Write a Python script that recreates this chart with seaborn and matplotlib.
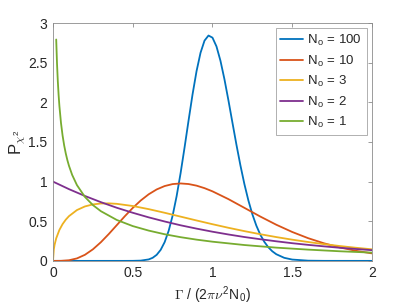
import numpy as np
import pandas as pd
import seaborn as sns
import matplotlib
import matplotlib.pyplot as plt

sns.set_style("white")
plt.rcParams["font.family"] = ["Liberation Sans", "DejaVu Sans"]
plt.rcParams["mathtext.fontset"] = "cm"

FONTSIZE = 10

# N_o = 100
x100 = [0.0, 0.45, 0.5, 0.55, 0.6, 0.625, 0.65, 0.675, 0.7, 0.725, 0.75, 0.775,
        0.8, 0.825, 0.85, 0.875, 0.9, 0.925, 0.95, 0.975, 1.0, 1.025, 1.05,
        1.075, 1.1, 1.125, 1.15, 1.175, 1.2, 1.225, 1.25, 1.275, 1.3, 1.325,
        1.35, 1.375, 1.4, 1.45, 1.5, 1.6, 1.7, 2.0]
p100 = [0.0, 0.0, 0.0004, 0.0032, 0.0184, 0.039, 0.0763, 0.1389, 0.2365, 0.3782,
        0.5706, 0.8152, 1.1067, 1.4322, 1.7718, 2.1012, 2.3934, 2.6256, 2.7788,
        2.8431, 2.8162, 2.7058, 2.5247, 2.2913, 2.025, 1.7452, 1.4677, 1.2064,
        0.9697, 0.763, 0.5883, 0.4448, 0.33, 0.2404, 0.1721, 0.1212, 0.084,
        0.0385, 0.0166, 0.0026, 0.0003, 0.0]

# N_o = 10
x10 = [0.0, 0.05, 0.1, 0.15, 0.2, 0.25, 0.3, 0.35, 0.4, 0.45, 0.5, 0.55, 0.6,
       0.65, 0.7, 0.75, 0.8, 0.85, 0.9, 0.95, 1.0, 1.1, 1.2, 1.3, 1.4, 1.5,
       1.6, 1.7, 1.8, 1.9, 2.0]
p10 = [0.0, 0.0006, 0.0079, 0.0311, 0.0766, 0.1457, 0.2353, 0.3395, 0.4511,
       0.5628, 0.668, 0.7617, 0.8402, 0.9013, 0.9441, 0.9689, 0.9769, 0.9695,
       0.9491, 0.9176, 0.8773, 0.7791, 0.6693, 0.5591, 0.4561, 0.3646, 0.2863,
       0.2213, 0.1687, 0.127, 0.0946]

# N_o = 3
x3 = [0.0, 0.005, 0.01, 0.02, 0.04, 0.06, 0.08, 0.1, 0.15, 0.2, 0.25, 0.3,
      0.35, 0.4, 0.5, 0.6, 0.7, 0.8, 0.9, 1.0, 1.1, 1.2, 1.3, 1.4, 1.5, 1.6,
      1.7, 1.8, 1.9, 2.0]
p3 = [0.0, 0.1455, 0.2042, 0.2845, 0.3905, 0.4641, 0.52, 0.5642, 0.6411,
      0.6868, 0.7124, 0.724, 0.7255, 0.7196, 0.6924, 0.6528, 0.6069, 0.5584,
      0.5098, 0.4626, 0.4175, 0.3754, 0.3363, 0.3004, 0.2676, 0.2379, 0.211,
      0.1869, 0.1653, 0.146]

# N_o = 2
x2 = [0.0, 0.1, 0.2, 0.3, 0.4, 0.5, 0.6, 0.7, 0.8, 0.9, 1.0, 1.1, 1.2, 1.3,
      1.4, 1.5, 1.6, 1.7, 1.8, 1.9, 2.0]
p2 = [1.0, 0.905, 0.819, 0.741, 0.67, 0.607, 0.549, 0.497, 0.449, 0.407, 0.368,
      0.333, 0.301, 0.273, 0.247, 0.223, 0.202, 0.183, 0.165, 0.15, 0.135]

# N_o = 1
x1 = [0.02, 0.025, 0.03, 0.035, 0.04, 0.05, 0.06, 0.07, 0.08, 0.09, 0.1, 0.12,
      0.15, 0.2, 0.25, 0.3, 0.4, 0.5, 0.6, 0.7, 0.8, 0.9, 1.0, 1.2, 1.4, 1.6,
      1.8, 2.0]
p1 = [2.793, 2.492, 2.269, 2.095, 1.955, 1.74, 1.581, 1.456, 1.355, 1.271, 1.2,
      1.085, 0.956, 0.807, 0.704, 0.627, 0.516, 0.439, 0.382, 0.336, 0.299,
      0.268, 0.242, 0.2, 0.167, 0.142, 0.121, 0.104]

labels = [r"N$_\mathregular{o}$ = 100", r"N$_\mathregular{o}$ = 10",
          r"N$_\mathregular{o}$ = 3", r"N$_\mathregular{o}$ = 2",
          r"N$_\mathregular{o}$ = 1"]
colors = ["#0072BD", "#D95319", "#EDB120", "#7E2F8E", "#77AC30"]

frames = []
for lab, xs, ps in zip(labels, [x100, x10, x3, x2, x1], [p100, p10, p3, p2, p1]):
    frames.append(pd.DataFrame({"x": xs, "p": ps, "N": lab}))
df = pd.concat(frames, ignore_index=True)

fig = plt.figure(figsize=(4.11, 3.08), dpi=100)
ax = fig.add_axes([0.129, 0.153, 0.776, 0.772])

sns.lineplot(data=df, x="x", y="p", hue="N", hue_order=labels,
             palette=colors, estimator=None, sort=True, linewidth=1.3, ax=ax)

ax.set_xlim(0, 2)
ax.set_ylim(0, 3)
ax.set_xticks([0, 0.5, 1, 1.5, 2])
ax.set_xticklabels(["0", "0.5", "1", "1.5", "2"])
ax.set_yticks([0, 0.5, 1, 1.5, 2, 2.5, 3])
ax.set_yticklabels(["0", "0.5", "1", "1.5", "2", "2.5", "3"])

ax.set_xlabel(r"$\Gamma$ / (2$\pi\nu^\mathregular{2}$N$_\mathregular{0}$)",
              fontsize=FONTSIZE, color="#262626", labelpad=3)
ax.set_ylabel(r"P$_{\chi^\mathregular{2}}$", fontsize=FONTSIZE + 2,
              color="#262626", labelpad=0)

for s in ax.spines.values():
    s.set_color("#8c8c8c")
    s.set_linewidth(0.6)
ax.tick_params(direction="in", length=3, width=0.6, color="#8c8c8c",
               labelsize=FONTSIZE, labelcolor="#262626", top=True, right=True,
               pad=4)

leg = ax.legend(loc="upper right", fontsize=FONTSIZE - 0.5, frameon=True,
                fancybox=False, edgecolor="#8c8c8c", handlelength=1.7,
                handletextpad=0.35, borderpad=0.35, labelspacing=0.4,
                borderaxespad=0.4)
leg.get_frame().set_linewidth(0.6)

fig.savefig("out.png", dpi=100)
